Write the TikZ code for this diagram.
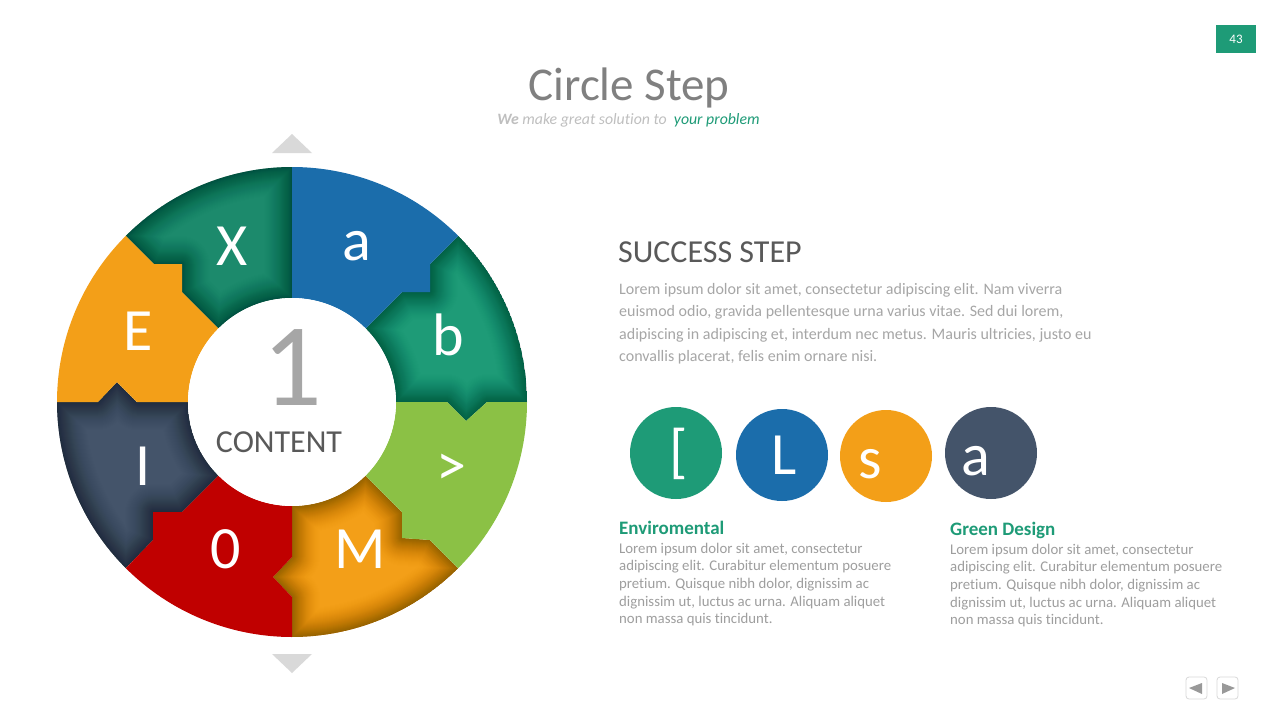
\documentclass[tikz,border=0pt]{standalone}
\usepackage{fontspec}
\setmainfont[Ligatures=NoCommon]{Carlito}
\usetikzlibrary{calc}
\definecolor{cblue}{HTML}{1B6DAB}
\definecolor{cgreen}{HTML}{1E9B77}
\definecolor{cteal}{HTML}{1C8A6C}
\definecolor{clime}{HTML}{8BC145}
\definecolor{corange}{HTML}{F39F18}
\definecolor{cred}{HTML}{C00000}
\definecolor{cnavy}{HTML}{44546A}
\newcommand{\px}[1]{\fontsize{#1}{#1}\selectfont}
\newcommand{\glowseg}[2]{\begin{scope}\clip #2;\fill[#1] #2;
  \foreach \w in {1,...,30} {\pgfmathsetmacro{\op}{0.024*(1-\w/31)}
    \draw[black,opacity=\op,line width=2*\w,line join=round] #2;}
  \end{scope}}

\begin{document}
\begin{tikzpicture}[x=1pt,y=-1pt,
letter/.style={anchor=base,inner sep=0,text=white,font=\px{60}},
badge/.style={circle,minimum size=92pt,inner sep=0},
arrowmark/.style={fill=black!15},
navbox/.style={draw=black!15,rounded corners=3pt,fill=white,line width=0.8pt},
navtip/.style={fill=black!40},
bodyA/.style={anchor=base west,inner sep=0,text=black!35,font=\px{16}},
bodyB/.style={anchor=base west,inner sep=0,text=black!38,font=\px{14.8}},
headB/.style={anchor=base west,inner sep=0,text=cgreen,font=\px{19}\bfseries},
]
\useasboundingbox (0,0) rectangle (1280,720);
\fill[white] (0,0) rectangle (1280,720);

% page number and title
\node[fill=cgreen,minimum width=40pt,minimum height=28pt,inner sep=0,text=white,font=\px{13}] (nPage) at (1236,39) {43};
\node[anchor=base,inner sep=0,text=black!50,font=\px{47}] (nTitle) at (629,100) {Circle Step};
\node[anchor=base,inner sep=0,font=\px{15.8}\itshape] (nSub) at (628.5,124) {\textcolor{black!25}{\textbf{We} make great solution to}\ \ \textcolor{cgreen}{your problem}};

% wheel
\fill[arrowmark] (272,153) -- (312,153) -- (292,134) -- cycle;
\fill[arrowmark] (272,654) -- (312,654) -- (292,673) -- cycle;
\begin{scope}[shift={(292,402)},y=1pt]
\glowseg{cteal}{(135:235) arc (135:90:235) -- (90:104) arc (90:135:104) -- (-110,110) -- (-110,138) -- (-138,138) -- cycle}
\glowseg{cgreen}{(45:235) arc (45:0:235) -- (195,0) -- (174,-19) -- (155,0) -- (0:104) arc (0:45:104) -- (110,110) -- (138,110) -- (138,138) -- cycle}
\glowseg{corange}{(-45:235) arc (-45:-90:235) -- (0,-195) -- (-19,-175) -- (0,-155) -- (-90:104) arc (-90:-45:104) -- (110,-110) -- (110,-136) -- (138,-138) -- cycle}
\glowseg{cnavy}{(-135:235) arc (-135:-180:235) -- (-194,0) -- (-175,20) -- (-155,0) -- (180:104) arc (180:225:104) -- (-110,-110) -- (-139,-110) -- (-139,-138) -- cycle}
\fill[cblue] (90:235) arc (90:45:235) -- (138,138) -- (138,110) -- (110,110) -- (45:104) arc (45:90:104) -- cycle;
\fill[clime] (0:235) arc (0:-45:235) -- (138,-138) -- (110,-136) -- (110,-110) -- (-45:104) arc (-45:0:104) -- (155,0) -- (174,-19) -- (195,0) -- cycle;
\fill[cred] (-90:235) arc (-90:-135:235) -- (-139,-138) -- (-139,-110) -- (-110,-110) -- (-135:104) arc (-135:-90:104) -- (0,-155) -- (-19,-175) -- (0,-195) -- cycle;
\fill[corange] (180:235) arc (180:135:235) -- (-138,138) -- (-110,138) -- (-110,110) -- (135:104) arc (135:180:104) -- (-155,0) -- (-175,20) -- (-194,0) -- cycle;
\end{scope}
\node[circle,fill=white,minimum size=208pt,inner sep=0] (nHub) at (292,402) {};
\node[anchor=base,inner sep=0,text=black!35,font=\px{118}] (nOne) at (292,405) {1};
\node[anchor=base,inner sep=0,text=black!65,font=\px{32}] (nContent) at (279,452) {CONTENT};
\node[letter] (nX) at (232,265) {X};
\node[letter] (nA) at (357,260) {a};
\node[letter] (nB) at (448,355) {b};
\node[letter] (nGt) at (451,485) {>};
\node[letter] (nM) at (360,568) {M};
\node[letter] (nZero) at (226,568) {0};
\node[letter] (nI) at (143,485) {I};
\node[letter] (nE) at (138,350) {E};

% right column
\node[anchor=base west,inner sep=0,text=black!65,font=\px{32}] (nHead) at (618,262) {SUCCESS STEP};
\foreach \txt [count=\i] in {{Lorem ipsum dolor sit amet, consectetur adipiscing elit. Nam viverra},{euismod odio, gravida pellentesque urna varius vitae. Sed dui lorem,},{adipiscing in adipiscing et, interdum nec metus. Mauris ultricies, justo eu},{convallis placerat, felis enim ornare nisi.}}
  \node[bodyA] (nLine\i) at (619,{294+22.6*(\i-1)}) {\txt};

\node[badge,fill=cgreen] (nBadgeA) at (676,453) {};
\node[badge,fill=cblue] (nBadgeB) at (782,455) {};
\node[badge,fill=corange] (nBadgeC) at (886,456) {};
\node[badge,fill=cnavy] (nBadgeD) at (991,453) {};
\node[letter] (nKa) at (679,471) {[};
\node[letter] (nKb) at (784,474) {L};
\node[letter] (nKc) at (870,478) {s};
\node[letter] (nKd) at (976,475) {a};

\node[headB] (nEnv) at (619,534) {Enviromental};
\node[headB] (nGreen) at (950,535) {Green Design};
\foreach \txt [count=\i] in {{Lorem ipsum dolor sit amet, consectetur},{adipiscing elit. Curabitur elementum posuere},{pretium. Quisque nibh dolor, dignissim ac},{dignissim ut, luctus ac urna. Aliquam aliquet},{non massa quis tincidunt.}} {
  \node[bodyB] (nEnvL\i) at (619,{553+17.7*(\i-1)}) {\txt};
  \node[bodyB] (nGrnL\i) at (950,{554+17.7*(\i-1)}) {\txt};
}

% nav buttons
\draw[navbox] (1186,677) rectangle (1207,699);
\draw[navbox] (1217,677) rectangle (1238,699);
\fill[navtip] (1189,688) -- (1202,683) -- (1202,694) -- cycle;
\fill[navtip] (1235,688) -- (1222,683) -- (1222,694) -- cycle;
\end{tikzpicture}
\end{document}
